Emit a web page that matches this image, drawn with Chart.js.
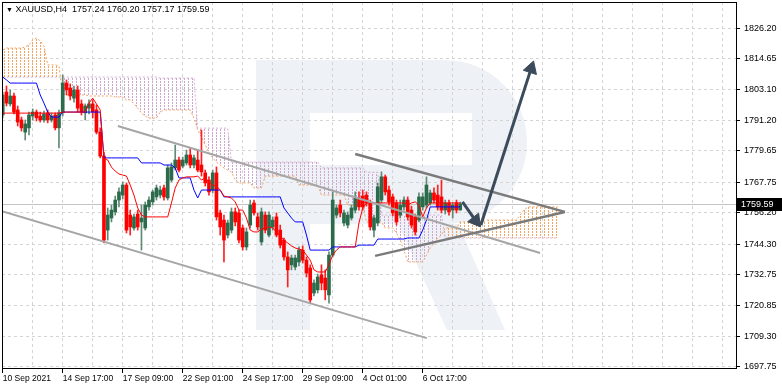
<!DOCTYPE html>
<html>
<head>
<meta charset="utf-8">
<script src="https://cdn.jsdelivr.net/npm/chart.js@4.4.0/dist/chart.umd.min.js"></script>
<style>
  html, body { margin: 0; padding: 0; background: #fff; }
  #wrap { position: relative; width: 782px; height: 389px; }
  #hdr { position: absolute; left: 6px; top: 4px; font: 9px "Liberation Sans", Arial, sans-serif; line-height: 10px; color: #000; white-space: pre; }
  #hdr span { font-size: 7px; }
</style>
</head>
<body>
<div id="wrap">
  <canvas id="myChart" width="782" height="389"></canvas>
  <div id="hdr"><span>▼</span> XAUUSD,H4  1757.24 1760.20 1757.17 1759.59</div>
</div>
<script>
// H4 candles, one per bar index
let opens = [
  1793.3, 1802.0, 1797.5, 1800.5, 1795.2, 1791.4, 1786.8, 1788.4, 1792.9, 1794.4,
  1792.9, 1791.4, 1794.1, 1791.4, 1793.3, 1788.4, 1794.1, 1805.4, 1803.5, 1799.7,
  1802.8, 1797.5, 1794.1, 1795.9, 1797.5, 1795.2, 1786.8, 1777.7, 1749.6, 1754.2,
  1756.5, 1761.0, 1762.9, 1766.7, 1755.3, 1750.4, 1755.7, 1752.7, 1750.4, 1758.4,
  1760.3, 1762.2, 1762.9, 1765.6, 1761.8, 1768.6, 1773.2, 1776.2, 1773.9, 1775.1,
  1778.1, 1774.3, 1776.2, 1774.3, 1771.3, 1768.6, 1764.8, 1771.3, 1756.1, 1753.4,
  1747.7, 1749.6, 1756.5, 1756.1, 1750.4, 1743.2, 1751.5, 1759.9, 1754.6, 1745.1,
  1755.3, 1747.7, 1750.8, 1754.6, 1749.6, 1745.8, 1739.4, 1736.4, 1735.6, 1737.5,
  1742.0, 1738.2, 1735.2, 1725.7, 1726.9, 1732.6, 1731.4, 1725.0, 1740.1, 1755.3,
  1759.1, 1752.3, 1751.5, 1754.2, 1757.2, 1761.8, 1762.5, 1762.9, 1759.9, 1749.6,
  1752.3, 1761.0, 1769.8, 1764.8, 1762.2, 1759.9, 1755.3, 1758.4, 1761.0, 1757.2,
  1754.6, 1753.4, 1758.4, 1759.1, 1759.9, 1763.7, 1762.9, 1762.2, 1757.2, 1759.9,
  1757.2, 1759.9, 1757.24
];
let highs = [
  1802.0, 1804.3, 1802.8, 1801.6, 1796.7, 1792.5, 1791.4, 1794.4, 1795.6, 1795.2,
  1794.4, 1794.8, 1795.2, 1794.1, 1794.1, 1795.2, 1808.5, 1806.6, 1805.1, 1804.3,
  1804.3, 1799.0, 1797.5, 1799.0, 1799.0, 1797.1, 1788.4, 1779.2, 1758.0, 1759.1,
  1762.5, 1765.6, 1767.9, 1767.5, 1757.2, 1755.7, 1757.2, 1759.1, 1760.3, 1762.2,
  1764.8, 1766.7, 1766.3, 1766.7, 1774.3, 1775.1, 1781.9, 1777.3, 1777.3, 1780.0,
  1780.8, 1778.1, 1780.0, 1787.6, 1772.4, 1769.8, 1772.4, 1773.6, 1757.2, 1755.3,
  1753.4, 1758.0, 1758.0, 1757.2, 1751.5, 1750.4, 1761.0, 1761.0, 1756.1, 1758.0,
  1756.5, 1756.5, 1754.6, 1756.1, 1751.5, 1746.6, 1741.3, 1740.1, 1740.1, 1743.2,
  1743.6, 1739.4, 1736.4, 1730.7, 1732.9, 1736.4, 1734.5, 1741.3, 1764.1, 1759.1,
  1761.0, 1757.2, 1756.5, 1759.1, 1764.1, 1764.1, 1764.8, 1764.1, 1761.0, 1755.3,
  1767.5, 1771.7, 1770.5, 1766.3, 1763.3, 1761.0, 1761.0, 1762.2, 1762.2, 1758.7,
  1755.7, 1763.7, 1763.7, 1769.8, 1764.8, 1765.6, 1766.7, 1768.6, 1761.0, 1761.0,
  1759.9, 1761.0, 1760.20
];
let lows = [
  1792.2, 1796.7, 1796.7, 1793.7, 1789.1, 1787.2, 1783.8, 1785.7, 1791.4, 1791.0,
  1790.6, 1790.6, 1790.3, 1790.6, 1787.6, 1780.8, 1792.9, 1800.9, 1799.0, 1798.2,
  1794.4, 1793.3, 1791.4, 1793.7, 1792.2, 1786.1, 1777.0, 1744.7, 1745.8, 1752.7,
  1755.3, 1758.4, 1761.4, 1748.5, 1747.7, 1749.6, 1749.6, 1742.0, 1749.6, 1757.2,
  1759.1, 1761.0, 1761.8, 1761.0, 1761.0, 1767.9, 1772.4, 1771.7, 1773.2, 1774.3,
  1773.2, 1773.2, 1771.7, 1770.1, 1766.3, 1762.9, 1763.7, 1753.4, 1747.7, 1737.5,
  1746.6, 1748.5, 1751.2, 1744.7, 1742.0, 1742.0, 1750.4, 1755.3, 1749.6, 1743.9,
  1748.5, 1747.0, 1749.6, 1747.0, 1742.8, 1738.2, 1728.0, 1734.5, 1734.5, 1736.0,
  1737.1, 1731.8, 1721.9, 1724.6, 1725.7, 1726.9, 1723.1, 1721.9, 1739.4, 1754.2,
  1754.6, 1751.2, 1750.4, 1753.4, 1756.1, 1757.2, 1757.2, 1758.7, 1749.6, 1747.0,
  1751.2, 1759.9, 1762.9, 1759.1, 1755.0, 1751.5, 1754.2, 1757.2, 1753.4, 1750.4,
  1747.7, 1752.7, 1757.2, 1758.0, 1759.1, 1759.9, 1757.2, 1756.1, 1755.7, 1755.3,
  1754.2, 1756.1, 1757.17
];
let closes = [
  1800.9, 1797.8, 1800.5, 1794.4, 1790.6, 1788.4, 1789.9, 1793.3, 1794.4, 1792.2,
  1791.4, 1793.7, 1791.4, 1792.9, 1788.4, 1794.1, 1805.4, 1802.8, 1800.5, 1802.8,
  1795.9, 1794.4, 1796.7, 1797.5, 1794.4, 1786.8, 1777.7, 1745.8, 1755.3, 1757.2,
  1761.0, 1764.1, 1766.7, 1749.6, 1750.8, 1754.6, 1750.8, 1754.2, 1759.1, 1761.0,
  1764.1, 1765.6, 1764.8, 1762.2, 1773.2, 1773.6, 1776.2, 1772.4, 1776.2, 1778.1,
  1774.3, 1777.0, 1772.4, 1771.7, 1767.5, 1764.1, 1771.3, 1754.6, 1750.8, 1745.8,
  1752.3, 1756.5, 1752.7, 1745.8, 1743.2, 1748.9, 1759.1, 1756.1, 1750.8, 1756.5,
  1749.6, 1755.3, 1753.4, 1747.7, 1743.9, 1739.4, 1734.5, 1739.0, 1739.0, 1742.0,
  1738.2, 1733.3, 1723.1, 1729.5, 1731.8, 1729.5, 1726.9, 1740.1, 1761.0, 1758.0,
  1756.1, 1756.1, 1755.3, 1758.0, 1761.8, 1758.4, 1758.4, 1759.9, 1750.8, 1754.2,
  1766.0, 1769.8, 1764.1, 1760.3, 1756.1, 1752.7, 1759.1, 1761.0, 1754.6, 1751.5,
  1748.9, 1762.2, 1762.2, 1766.7, 1763.7, 1761.0, 1758.4, 1757.2, 1759.9, 1756.5,
  1759.1, 1757.2, 1759.59
];

// ichimoku lines
let tenkan = [
  1794.0, 1794.0, 1794.0, 1794.0, 1794.0, 1794.0, 1794.0, 1794.0, 1794.0, 1794.0,
  1794.0, 1794.0, 1794.0, 1794.0, 1794.0, 1794.0, 1794.4, 1794.4, 1794.4, 1794.4,
  1794.4, 1794.4, 1794.4, 1797.8, 1799.7, 1797.5, 1795.2, 1777.0, 1776.2, 1773.5,
  1772.0, 1770.9, 1770.5, 1770.1, 1766.7, 1762.9, 1758.0, 1755.3, 1754.6, 1754.6,
  1754.6, 1754.6, 1754.6, 1754.6, 1754.6, 1759.9, 1765.6, 1768.6, 1769.4, 1769.8,
  1769.8, 1769.8, 1770.1, 1768.6, 1769.4, 1767.9, 1766.7, 1766.3, 1764.8, 1762.5,
  1762.2, 1761.8, 1760.3, 1757.2, 1757.2, 1754.2, 1749.6, 1748.9, 1748.9, 1750.0,
  1750.4, 1750.8, 1750.4, 1748.9, 1747.4, 1745.8, 1744.7, 1743.6, 1742.8, 1742.4,
  1742.0, 1740.1, 1738.2, 1734.5, 1733.7, 1733.7, 1733.7, 1736.4, 1740.1, 1742.0,
  1743.2, 1743.2, 1743.2, 1743.2, 1743.2, 1752.3, 1758.0, 1759.9, 1759.9, 1759.9,
  1759.9, 1759.9, 1759.9, 1759.9, 1759.9, 1759.9, 1759.9, 1759.9, 1759.1, 1759.9,
  1760.3, 1759.1, 1754.6, 1758.0, 1759.9, 1759.9, 1759.9, 1759.9, 1759.9, 1759.9,
  1759.9, 1759.9, 1759.9
];
let kijun = [
  1807.7, 1806.6, 1805.4, 1805.4, 1805.4, 1805.4, 1805.4, 1805.4, 1805.4, 1805.4,
  1800.9, 1797.8, 1794.4, 1792.5, 1792.5, 1792.5, 1794.4, 1794.4, 1794.4, 1794.4,
  1794.4, 1794.4, 1794.4, 1794.4, 1794.4, 1794.4, 1794.4, 1777.0, 1777.0, 1777.0,
  1777.0, 1777.0, 1777.0, 1777.0, 1777.0, 1777.0, 1777.0, 1775.1, 1775.1, 1775.1,
  1775.1, 1775.1, 1775.1, 1774.3, 1774.3, 1774.3, 1773.2, 1769.4, 1769.4, 1769.4,
  1769.4, 1764.8, 1761.8, 1764.8, 1764.8, 1764.8, 1764.8, 1764.8, 1764.8, 1762.2,
  1762.2, 1762.2, 1762.2, 1762.2, 1762.2, 1762.2, 1762.2, 1762.2, 1762.2, 1762.2,
  1762.2, 1762.2, 1762.2, 1762.2, 1762.2, 1758.0, 1756.1, 1754.2, 1752.7, 1752.7,
  1752.7, 1747.7, 1742.0, 1742.0, 1742.0, 1742.0, 1742.0, 1742.0, 1743.2, 1743.2,
  1743.2, 1743.2, 1743.2, 1743.2, 1743.2, 1743.9, 1743.9, 1743.9, 1743.9, 1743.9,
  1746.2, 1746.2, 1746.2, 1746.2, 1746.2, 1746.2, 1746.2, 1746.2, 1746.6, 1746.6,
  1746.6, 1746.6, 1749.6, 1753.4, 1758.4, 1758.4, 1758.4, 1758.4, 1758.4, 1758.4,
  1758.4, 1758.4, 1758.4
];
// senkou spans, already shifted 26 bars forward (149 bars)
let spanA = [
  1818.0, 1818.7, 1818.7, 1818.7, 1818.7, 1818.7, 1819.1, 1819.9, 1821.8, 1822.5,
  1821.4, 1819.5, 1812.3, 1812.3, 1812.3, 1811.9, 1800.9, 1800.9, 1800.9, 1800.9,
  1800.9, 1800.9, 1800.9, 1800.5, 1800.5, 1800.5, 1800.5, 1800.5, 1800.5, 1800.5,
  1800.1, 1800.1, 1800.1, 1799.0, 1799.0, 1797.5, 1795.9, 1794.0, 1792.9, 1792.1,
  1792.1, 1792.1, 1794.4, 1795.2, 1795.2, 1795.2, 1795.2, 1795.2, 1795.2, 1795.2,
  1795.2, 1792.1, 1787.6, 1784.9, 1781.9, 1779.2, 1777.0, 1775.4, 1774.3, 1773.2,
  1772.4, 1771.6, 1768.6, 1767.5, 1767.5, 1767.5, 1767.5, 1765.6, 1765.6, 1765.6,
  1770.1, 1770.1, 1770.1, 1770.1, 1770.1, 1770.1, 1770.1, 1770.1, 1770.1, 1766.7,
  1766.7, 1766.7, 1766.7, 1766.7, 1766.7, 1762.9, 1762.9, 1762.9, 1762.9, 1762.9,
  1762.9, 1762.9, 1759.1, 1759.1, 1759.1, 1759.1, 1759.1, 1752.7, 1752.7, 1752.7,
  1752.7, 1752.7, 1750.4, 1750.4, 1750.4, 1748.5, 1745.8, 1742.0, 1737.5, 1737.5,
  1737.5, 1737.5, 1737.5, 1740.1, 1742.8, 1744.7, 1746.6, 1747.7, 1750.4, 1750.4,
  1750.4, 1750.4, 1752.7, 1752.7, 1752.7, 1752.7, 1752.7, 1752.7, 1752.7, 1753.4,
  1753.4, 1753.4, 1753.4, 1753.4, 1753.4, 1753.4, 1753.4, 1753.4, 1755.3, 1757.2,
  1758.4, 1758.4, 1758.4, 1758.4, 1758.4, 1758.4, 1758.4, 1758.4, 1758.4
];
let spanB = [
  1807.7, 1807.7, 1807.7, 1807.7, 1807.7, 1807.7, 1807.7, 1807.7, 1807.7, 1807.7,
  1807.7, 1807.7, 1807.7, 1807.7, 1807.7, 1807.7, 1807.7, 1807.7, 1807.7, 1807.7,
  1807.7, 1807.7, 1807.7, 1807.7, 1807.7, 1807.7, 1807.7, 1807.7, 1807.7, 1807.7,
  1807.7, 1807.7, 1807.7, 1807.7, 1807.7, 1807.7, 1807.7, 1807.7, 1807.7, 1807.7,
  1807.7, 1807.7, 1807.3, 1807.3, 1807.3, 1807.3, 1807.3, 1807.3, 1807.3, 1807.3,
  1807.3, 1807.3, 1788.3, 1788.3, 1788.3, 1788.3, 1788.3, 1788.3, 1788.3, 1788.3,
  1788.3, 1775.4, 1775.4, 1775.4, 1775.4, 1775.4, 1775.4, 1775.4, 1775.4, 1775.4,
  1775.4, 1775.4, 1775.4, 1775.4, 1775.4, 1775.4, 1775.4, 1775.4, 1775.4, 1775.4,
  1775.4, 1775.4, 1775.4, 1775.4, 1775.4, 1773.2, 1773.2, 1773.2, 1773.2, 1773.2,
  1773.2, 1773.2, 1773.2, 1773.2, 1773.2, 1773.2, 1773.2, 1771.6, 1771.6, 1771.6,
  1771.6, 1755.3, 1755.3, 1755.3, 1755.3, 1755.3, 1755.3, 1755.3, 1755.3, 1755.3,
  1755.3, 1755.3, 1755.3, 1755.3, 1755.3, 1755.3, 1755.3, 1755.3, 1746.6, 1746.6,
  1746.6, 1746.6, 1746.6, 1746.6, 1746.6, 1746.6, 1746.6, 1746.6, 1746.6, 1746.6,
  1746.6, 1746.6, 1746.6, 1746.6, 1746.6, 1746.6, 1746.6, 1746.6, 1746.6, 1746.6,
  1746.6, 1746.6, 1746.6, 1746.6, 1746.6, 1746.6, 1746.6, 1746.6, 1746.6
];

// drawn analysis: [bar, price] end points
let channelTop = [[30.7, 1789.1], [143.3, 1740.9]];
let channelBottom = [[-0.2, 1756.8], [113.1, 1708.6]];
let wedgeTop = [[94.0, 1778.5], [149.9, 1756.5]];
let wedgeBottom = [[99.3, 1739.8], [149.9, 1756.5]];
let arrowDown = [[122.6, 1760.3], [126.1, 1753.2]];
let arrowUp = [[127.5, 1751.5], [140.9, 1810.9]];

let dateLabels = ["10 Sep 2021", "14 Sep 17:00", "17 Sep 09:00", "22 Sep 01:00",
  "24 Sep 17:00", "29 Sep 09:00", "4 Oct 01:00", "6 Oct 17:00"];
let priceTicks = [1697.75, 1709.30, 1720.85, 1732.75, 1744.30, 1756.20,
  1767.75, 1779.65, 1791.20, 1803.10, 1814.65, 1826.20];

const fontFam = '"Liberation Sans", Arial, sans-serif';
const arrowColor = "#3c4b5b";

function dotPattern(color) {
  let c = document.createElement("canvas");
  c.width = 4;
  c.height = 3;
  let g = c.getContext("2d");
  g.fillStyle = color;
  g.fillRect(0, 0, 1, 2);
  return g.createPattern(c, "repeat");
}

function pts(arr) {
  return arr.map((v, i) => ({ x: i, y: v }));
}
function pairs(arr) {
  return arr.map((p) => ({ x: p[0], y: p[1] }));
}

let gridBars = [];
for (let b = 0; b <= 192; b += 8) gridBars.push(b);

const bodyData = opens.map((o, i) => ({ x: i, y: [o, closes[i]] }));
const wickData = lows.map((l, i) => ({ x: i, y: [l, highs[i]] }));
const bodyColors = opens.map((o, i) => (closes[i] >= o ? "#2b6b4b" : "#ff0000"));
const wickColors = opens.map((o, i) => (closes[i] >= o ? "#5f8a74" : "#ff2020"));

// background logo, price line, frame and last price tag
const decorations = {
  id: "decorations",
  beforeDraw(chart) {
    let ctx = chart.ctx;
    ctx.save();
    ctx.fillStyle = "#eef1f6";
    ctx.beginPath();
    ctx.moveTo(256, 60);
    ctx.lineTo(445, 60);
    ctx.arc(445, 142, 82, -Math.PI / 2, Math.PI / 2);
    ctx.lineTo(256, 224);
    ctx.closePath();
    ctx.fill();
    ctx.fillRect(256, 60, 54, 270);
    ctx.beginPath();
    ctx.moveTo(398, 224);
    ctx.lineTo(458, 224);
    ctx.lineTo(505, 330);
    ctx.lineTo(447, 330);
    ctx.closePath();
    ctx.fill();
    ctx.fillStyle = "#fff";
    ctx.fillRect(310, 113, 162, 52);
    ctx.restore();
  },
  beforeDatasetsDraw(chart) {
    let { ctx, chartArea: a, scales } = chart;
    let py = Math.round(scales.y.getPixelForValue(closes[closes.length - 1])) + 0.5;
    ctx.save();
    ctx.strokeStyle = "#c4c4c4";
    ctx.lineWidth = 1;
    ctx.beginPath();
    ctx.moveTo(a.left, py);
    ctx.lineTo(a.right, py);
    ctx.stroke();
    ctx.restore();
  },
  afterDraw(chart) {
    let { ctx, chartArea: a, scales } = chart;
    ctx.save();
    ctx.strokeStyle = "#000";
    ctx.lineWidth = 1;
    ctx.strokeRect(a.left + 0.5, a.top + 0.5, a.right - a.left, a.bottom - a.top - 1);
    let last = closes[closes.length - 1];
    let py = Math.round(scales.y.getPixelForValue(last));
    ctx.fillStyle = "#000";
    ctx.fillRect(a.right + 1, py - 6, 45, 13);
    ctx.fillStyle = "#fff";
    ctx.font = "9px " + fontFam;
    ctx.textBaseline = "middle";
    ctx.fillText(last.toFixed(2), a.right + 5, py + 1);
    ctx.restore();
  },
};

let ctx = document.getElementById("myChart");
let myChart = new Chart(ctx, {
  type: "bar",
  data: {
    datasets: [
      {
        type: "line",
        data: pairs(arrowDown),
        borderColor: arrowColor,
        borderWidth: 3,
        pointRadius: 0,
        order: 0,
      },
      {
        type: "line",
        data: pairs(arrowUp),
        borderColor: arrowColor,
        borderWidth: 3,
        pointRadius: 0,
        order: 0,
      },
      {
        type: "line",
        data: [pairs(arrowDown)[1]],
        showLine: false,
        pointStyle: "triangle",
        pointRadius: 8,
        pointRotation: 142,
        pointBackgroundColor: arrowColor,
        pointBorderColor: arrowColor,
        pointBorderWidth: 1,
        order: 0,
      },
      {
        type: "line",
        data: [pairs(arrowUp)[1]],
        showLine: false,
        pointStyle: "triangle",
        pointRadius: 8,
        pointRotation: 18,
        pointBackgroundColor: arrowColor,
        pointBorderColor: arrowColor,
        pointBorderWidth: 1,
        order: 0,
      },
      {
        type: "line",
        data: pairs(wedgeTop),
        borderColor: "#7a7a7a",
        borderWidth: 2.5,
        pointRadius: 0,
        order: 1,
      },
      {
        type: "line",
        data: pairs(wedgeBottom),
        borderColor: "#7a7a7a",
        borderWidth: 2.5,
        pointRadius: 0,
        order: 1,
      },
      {
        type: "line",
        data: pairs(channelTop),
        borderColor: "#a6a6a6",
        borderWidth: 2,
        pointRadius: 0,
        order: 1,
      },
      {
        type: "line",
        data: pairs(channelBottom),
        borderColor: "#a6a6a6",
        borderWidth: 2,
        pointRadius: 0,
        order: 1,
      },
      {
        type: "line",
        data: pts(tenkan),
        borderColor: "#ff0000",
        borderWidth: 1,
        pointRadius: 0,
        order: 2,
      },
      {
        type: "line",
        data: pts(kijun),
        borderColor: "#0000ff",
        borderWidth: 1,
        pointRadius: 0,
        order: 2,
      },
      {
        type: "bar",
        data: bodyData,
        backgroundColor: bodyColors,
        barThickness: 3,
        grouped: false,
        order: 3,
      },
      {
        type: "bar",
        data: wickData,
        backgroundColor: wickColors,
        barThickness: 1,
        grouped: false,
        order: 4,
      },
      {
        type: "line",
        data: pts(spanA),
        borderColor: "#f4a460",
        borderDash: [2, 2],
        borderWidth: 1,
        pointRadius: 0,
        fill: { target: "+1", above: dotPattern("#f4a460"), below: dotPattern("#cfa6cf") },
        order: 5,
      },
      {
        type: "line",
        data: pts(spanB),
        borderColor: "#d2b0d2",
        borderDash: [2, 2],
        borderWidth: 1,
        pointRadius: 0,
        order: 6,
      },
    ],
  },
  options: {
    responsive: false,
    animation: false,
    events: [],
    layout: { autoPadding: false, padding: { left: 2, top: 2, right: 0, bottom: 0 } },
    plugins: { legend: { display: false }, tooltip: { enabled: false } },
    scales: {
      x: {
        type: "linear",
        min: -0.19,
        max: 195.54,
        offset: false,
        afterBuildTicks: (s) => {
          s.ticks = gridBars.map((v) => ({ value: v }));
        },
        afterFit: (s) => {
          s.height = 20;
          s.paddingLeft = 0;
          s.paddingRight = 0;
        },
        grid: {
          offset: false,
          color: "#d4d4d4",
          tickLength: 4,
          tickColor: (c) => (c.index % 2 === 0 && c.index / 2 < dateLabels.length ? "#000" : "rgba(0,0,0,0)"),
        },
        border: { display: false, dash: [3, 3] },
        ticks: {
          autoSkip: false,
          maxRotation: 0,
          align: "start",
          padding: 1,
          color: "#000",
          font: { family: fontFam, size: 8.5 },
          callback: (v, i) => (i % 2 === 0 && dateLabels[i / 2] ? dateLabels[i / 2] : ""),
        },
      },
      y: {
        type: "linear",
        position: "right",
        min: 1696.87,
        max: 1836.18,
        afterBuildTicks: (s) => {
          s.ticks = priceTicks.map((v) => ({ value: v }));
        },
        afterFit: (s) => {
          s.width = 46;
          s.paddingTop = 0;
          s.paddingBottom = 0;
        },
        grid: { color: "#d4d4d4", tickLength: 4, tickColor: "#000" },
        border: { display: false, dash: [3, 3] },
        ticks: {
          padding: 4,
          color: "#000",
          font: { family: fontFam, size: 9 },
          callback: (v) => Number(v).toFixed(2),
        },
      },
    },
  },
  plugins: [decorations],
});
</script>
</body>
</html>
